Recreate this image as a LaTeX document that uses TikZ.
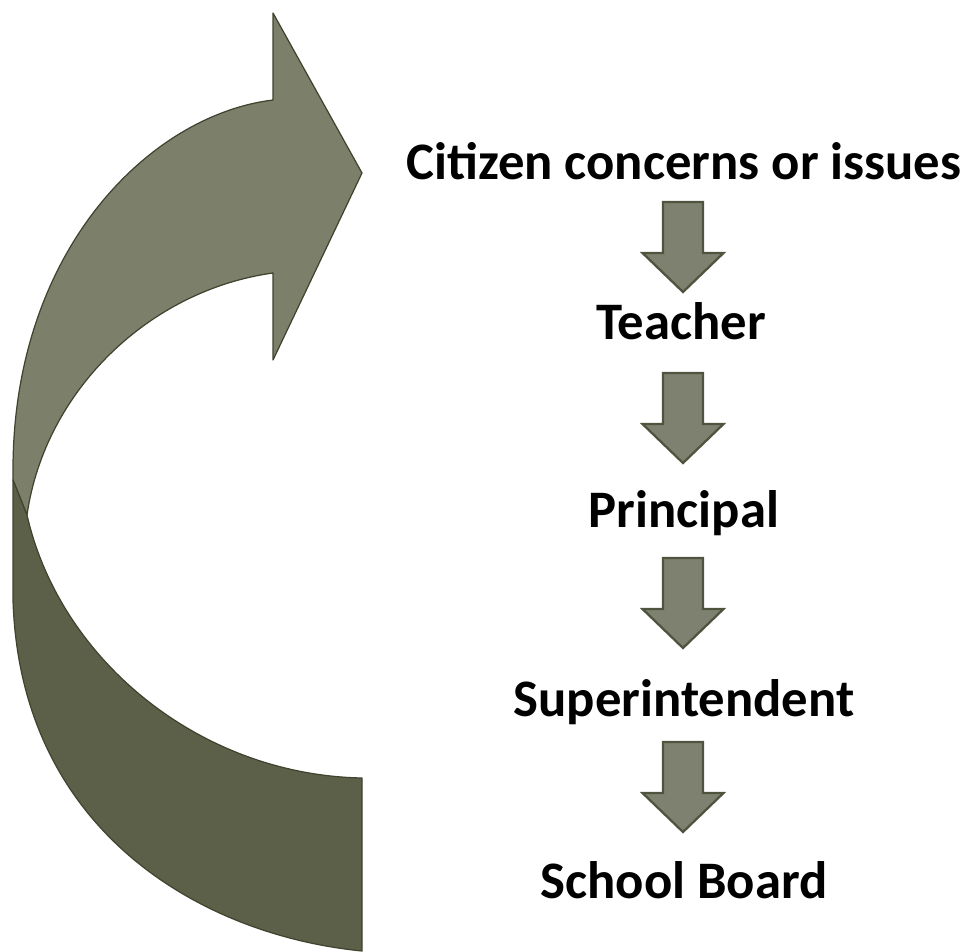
\documentclass[tikz,border=0pt]{standalone}
\usepackage{fontspec}
\setmainfont{Carlito}
\usepackage{tikz}
\usetikzlibrary{positioning,calc}

\definecolor{ribbonlight}{RGB}{124,127,106}
\definecolor{ribbondark}{RGB}{92,96,72}
\definecolor{ribbonedge}{RGB}{62,68,46}
\definecolor{stepfill}{RGB}{126,129,112}
\definecolor{stepedge}{RGB}{78,84,62}

\tikzset{
  ribbon/.style={draw=ribbonedge,line width=0.7pt,line join=round},
  smallarrow/.style={fill=stepfill,draw=stepedge,line width=1.3pt,line join=miter},
  pics/downarrow/.style={code={
    \draw[smallarrow] (-20,0) -- (20,0) -- (20,51) -- (40.5,51) -- (0,90)
      -- (-40.5,51) -- (-20,51) -- cycle;}}
}

\begin{document}
\begin{tikzpicture}
            [x=0.02cm,y=-0.02cm,
            every node/.style={font=\fontsize{30}{36}\selectfont\bfseries,anchor=base,inner sep=0pt}
            ]
            \useasboundingbox (0,0) rectangle (970,952);
            % big return arrow, upper band with the head
            \fill[ribbonlight,ribbon] (13,480) -- (13,470)
              .. controls (13,250) and (150,115) .. (273,100)
              -- (273,13) -- (362,173) -- (273,360) -- (273,273)
              .. controls (150,290) and (45,390) .. (27,515) -- cycle;
            % lower band, twisted under the upper one
            \fill[ribbondark,ribbon] (13,480) -- (27,515)
              .. controls (60,660) and (200,775) .. (362,778)
              -- (362,951)
              .. controls (200,935) and (20,830) .. (13,600) -- cycle;
            % chain of people
            \node (citizen) at (684,180) {Citizen concerns or issues};
            \node (teacher) at (681,340) {Teacher};
            \node (principal) at (684,527) {Principal};
            \node (super) at (684,716) {Superintendent};
            \node (board) at (684,898) {School Board};
            \pic (a1) at (683,202) {downarrow};
            \pic (a2) at (683,373) {downarrow};
            \pic (a3) at (683,558) {downarrow};
            \pic (a4) at (683,742) {downarrow};
          \end{tikzpicture}
\end{document}
